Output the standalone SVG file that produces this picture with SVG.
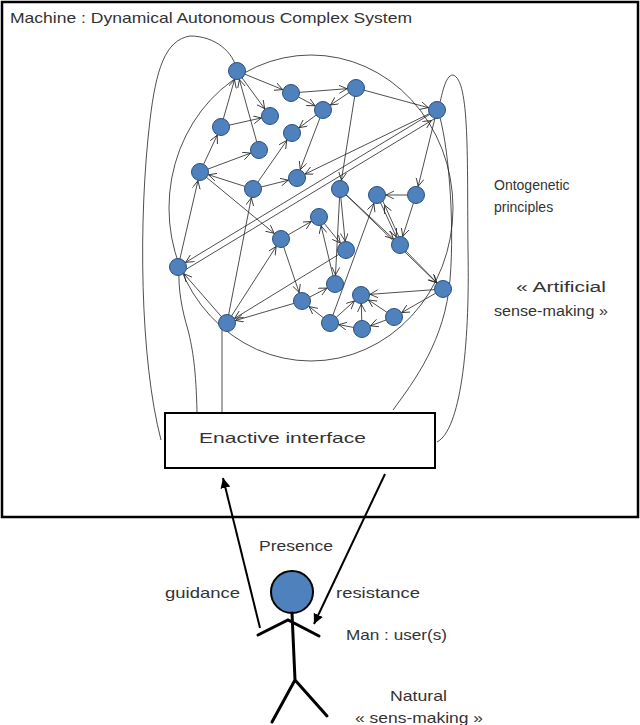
<svg xmlns="http://www.w3.org/2000/svg" width="640" height="725" viewBox="0 0 640 725">
<style>
.t{font-family:"Liberation Sans",Arial,sans-serif;font-size:15px;fill:#333}
.s{font-size:14px}
.n{fill:#4F81BD;stroke:#2B4F80;stroke-width:1}
.e{stroke:#222;stroke-width:0.8;fill:none;marker-end:url(#a)}
.c{stroke:#222;stroke-width:0.8;fill:none}
.k{stroke:#000;stroke-width:3;fill:none;stroke-linecap:round}
</style>
<defs>
<marker id="a" markerUnits="userSpaceOnUse" markerWidth="30" markerHeight="12" refX="17" refY="4" orient="auto"><path d="M0,0 L8,4 L0,8" fill="none" stroke="#222" stroke-width="0.8"/></marker>
<marker id="b" markerUnits="userSpaceOnUse" markerWidth="14" markerHeight="12" refX="10" refY="5" orient="auto"><path d="M0,0 L10,5 L0,10 Z" fill="#000"/></marker>
</defs>
<g id="machine"><rect x="2" y="2" width="636" height="515" fill="none" stroke="#000" stroke-width="2.5"/>
<text class="t" x="10" y="23" textLength="402" lengthAdjust="spacingAndGlyphs">Machine : Dynamical Autonomous Complex System</text></g>
<g id="outlines">
<ellipse class="c" cx="311" cy="208" rx="142" ry="153"/>
<path class="c" d="M161,440 C140,360 138,220 150,120 C156,70 165,40 190,36 C215,36 234,52 237,71"/>
<path class="c" d="M197,412 C196,370 193,350 188,330 C182,310 178,290 179,267"/>
<path class="c" d="M437,442 C460,430 470,350 468,250 C467,160 470,80 453,75 C445,75 442,95 438,111"/>
<path class="c" d="M438,111 C448,140 455,220 450,280 C445,340 415,380 393,410"/>
<line class="c" x1="222" y1="323" x2="222" y2="413"/>
</g>
<g id="connectors">
<line class="e" x1="237" y1="71" x2="291" y2="93"/>
<line class="e" x1="237" y1="71" x2="270" y2="116"/>
<line class="e" x1="291" y1="93" x2="323" y2="110"/>
<line class="e" x1="356" y1="88" x2="323" y2="110"/>
<line class="e" x1="291" y1="93" x2="356" y2="88"/>
<line class="e" x1="356" y1="88" x2="437" y2="110"/>
<line class="e" x1="323" y1="110" x2="292" y2="133"/>
<line class="e" x1="221" y1="127" x2="270" y2="116"/>
<line class="e" x1="221" y1="127" x2="237" y2="71"/>
<line class="e" x1="259" y1="150" x2="237" y2="71"/>
<line class="e" x1="200" y1="172" x2="221" y2="127"/>
<line class="e" x1="200" y1="172" x2="259" y2="150"/>
<line class="e" x1="253" y1="189" x2="200" y2="172"/>
<line class="e" x1="253" y1="189" x2="297" y2="178"/>
<line class="e" x1="253" y1="189" x2="292" y2="133"/>
<line class="e" x1="323" y1="110" x2="297" y2="178"/>
<line class="e" x1="437" y1="110" x2="297" y2="178"/>
<line class="e" x1="437" y1="110" x2="178" y2="267"/>
<line class="e" x1="180" y1="273" x2="439" y2="116"/>
<line class="e" x1="356" y1="88" x2="340" y2="189"/>
<line class="e" x1="437" y1="110" x2="416" y2="195"/>
<line class="e" x1="416" y1="195" x2="377" y2="195"/>
<line class="e" x1="416" y1="195" x2="400" y2="245"/>
<line class="e" x1="340" y1="189" x2="400" y2="245"/>
<line class="e" x1="377" y1="195" x2="400" y2="245"/>
<line class="e" x1="403" y1="246" x2="381" y2="197"/>
<line class="e" x1="400" y1="245" x2="443" y2="289"/>
<line class="e" x1="340" y1="189" x2="443" y2="289"/>
<line class="e" x1="443" y1="289" x2="361" y2="295"/>
<line class="e" x1="443" y1="289" x2="394" y2="317"/>
<line class="e" x1="394" y1="317" x2="362" y2="329"/>
<line class="e" x1="362" y1="329" x2="330" y2="323"/>
<line class="e" x1="330" y1="323" x2="361" y2="295"/>
<line class="e" x1="362" y1="329" x2="361" y2="295"/>
<line class="e" x1="394" y1="317" x2="361" y2="295"/>
<line class="e" x1="330" y1="323" x2="377" y2="195"/>
<line class="e" x1="330" y1="323" x2="302" y2="301"/>
<line class="e" x1="302" y1="301" x2="335" y2="284"/>
<line class="e" x1="335" y1="284" x2="319" y2="217"/>
<line class="e" x1="340" y1="189" x2="335" y2="284"/>
<line class="e" x1="319" y1="217" x2="346" y2="250"/>
<line class="e" x1="340" y1="189" x2="346" y2="250"/>
<line class="e" x1="346" y1="250" x2="227" y2="323"/>
<line class="e" x1="302" y1="301" x2="227" y2="323"/>
<line class="e" x1="281" y1="239" x2="302" y2="301"/>
<line class="e" x1="281" y1="239" x2="319" y2="217"/>
<line class="e" x1="227" y1="323" x2="281" y2="239"/>
<line class="e" x1="227" y1="323" x2="253" y2="189"/>
<line class="e" x1="227" y1="323" x2="178" y2="267"/>
<line class="e" x1="200" y1="172" x2="281" y2="239"/>
<line class="e" x1="178" y1="267" x2="200" y2="172"/>
</g>
<g id="nodes">
<circle class="n" cx="237" cy="71" r="8.5"/><circle class="n" cx="291" cy="93" r="8.5"/>
<circle class="n" cx="270" cy="116" r="8.5"/><circle class="n" cx="356" cy="88" r="8.5"/>
<circle class="n" cx="323" cy="110" r="8.5"/><circle class="n" cx="221" cy="127" r="8.5"/>
<circle class="n" cx="292" cy="133" r="8.5"/><circle class="n" cx="437" cy="110" r="8.5"/>
<circle class="n" cx="200" cy="172" r="8.5"/><circle class="n" cx="259" cy="150" r="8.5"/>
<circle class="n" cx="253" cy="189" r="8.5"/><circle class="n" cx="297" cy="178" r="8.5"/>
<circle class="n" cx="340" cy="189" r="8.5"/><circle class="n" cx="377" cy="195" r="8.5"/>
<circle class="n" cx="416" cy="195" r="8.5"/><circle class="n" cx="319" cy="217" r="8.5"/>
<circle class="n" cx="178" cy="267" r="8.5"/><circle class="n" cx="281" cy="239" r="8.5"/>
<circle class="n" cx="346" cy="250" r="8.5"/><circle class="n" cx="400" cy="245" r="8.5"/>
<circle class="n" cx="335" cy="284" r="8.5"/><circle class="n" cx="443" cy="289" r="8.5"/>
<circle class="n" cx="302" cy="301" r="8.5"/><circle class="n" cx="361" cy="295" r="8.5"/>
<circle class="n" cx="394" cy="317" r="8.5"/><circle class="n" cx="330" cy="323" r="8.5"/>
<circle class="n" cx="362" cy="329" r="8.5"/><circle class="n" cx="227" cy="323" r="8.5"/>
</g>
<g id="interface"><rect x="165" y="413" width="270" height="55" fill="#fff" stroke="#000" stroke-width="2"/>
<text class="t" x="199" y="443" textLength="167" lengthAdjust="spacingAndGlyphs">Enactive interface</text></g>
<g id="labels">
<text class="t s" x="494" y="190">Ontogenetic</text><text class="t s" x="494" y="212">principles</text>
<text class="t s" x="516" y="292" textLength="90" lengthAdjust="spacingAndGlyphs">« Artificial</text><text class="t s" x="494" y="316" textLength="114" lengthAdjust="spacingAndGlyphs">sense-making »</text>
<text class="t" x="259" y="551" textLength="74" lengthAdjust="spacingAndGlyphs">Presence</text><text class="t" x="165" y="598" textLength="75" lengthAdjust="spacingAndGlyphs">guidance</text>
<text class="t" x="336" y="598" textLength="84" lengthAdjust="spacingAndGlyphs">resistance</text><text class="t" x="346" y="640" textLength="101" lengthAdjust="spacingAndGlyphs">Man : user(s)</text>
<text class="t" x="390" y="701" textLength="57" lengthAdjust="spacingAndGlyphs">Natural</text><text class="t" x="355" y="723" textLength="128" lengthAdjust="spacingAndGlyphs">« sens-making »</text>
</g>
<g id="user">
<circle cx="292" cy="592" r="21" fill="#4F81BD" stroke="#000" stroke-width="2"/>
<path class="k" d="M292,613 L295,680 M258,635 L288,620 L319,636 M295,680 L272,722 M295,680 L327,716"/>
</g>
<g id="flows">
<line x1="260" y1="628" x2="223" y2="478" stroke="#000" stroke-width="2" marker-end="url(#b)"/>
<line x1="385" y1="474" x2="314" y2="624" stroke="#000" stroke-width="2" marker-end="url(#b)"/>
</g>
</svg>
